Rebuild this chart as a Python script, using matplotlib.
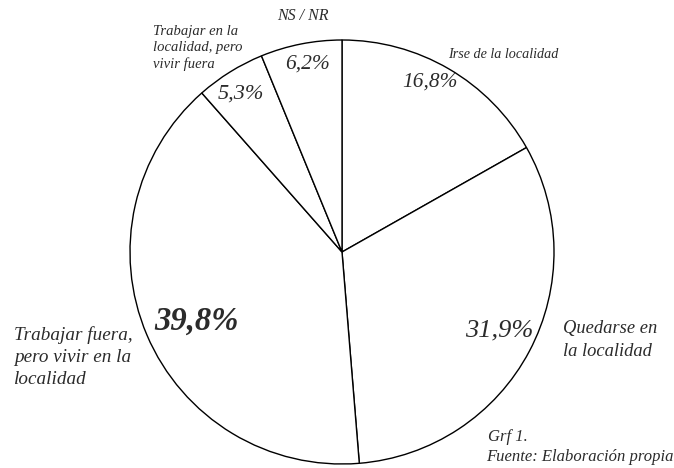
import matplotlib.pyplot as plt

# answers, clockwise from 12 o'clock
categories = ["Irse de la localidad",
              "Quedarse en\nla localidad",
              "Trabajar fuera,\npero vivir en la\nlocalidad",
              "Trabajar en la\nlocalidad, pero\nvivir fuera",
              "NS / NR"]
values = [16.8, 31.9, 39.8, 5.3, 6.2]

W, H = 674, 468
ink = "#2b2b2b"
serif = ["Liberation Serif", "DejaVu Serif"]


def fmt(v):
    return ("%.1f%%" % v).replace(".", ",")


fig = plt.figure(figsize=(W / 100, H / 100), dpi=100)
ax = fig.add_axes([0, 0, 1, 1])
ax.set_xlim(0, W)
ax.set_ylim(0, H)
ax.set_aspect("equal")
ax.axis("off")

ax.pie(values, startangle=90, counterclock=False, center=(342, H - 252),
       radius=212, colors=["white"] * len(values),
       wedgeprops=dict(edgecolor="black", linewidth=1.0))
ax.set_xlim(0, W)
ax.set_ylim(0, H)


def put(x, y, s, size, ha="left", weight="normal", ls=1.25):
    ax.text(x, H - y, s, fontsize=size, ha=ha, va="center", style="italic",
            weight=weight, color=ink, family=serif, linespacing=ls)


# category names
put(448, 54, categories[0], 10.2)
put(563, 340, categories[1], 13.3, ls=1.4)
put(14, 357, categories[2], 13.8, ls=1.38)
put(153, 48, categories[3], 10.5, ls=1.3)
put(303, 16, categories[4], 11.5, ha="center")

# percentages
put(430, 82, fmt(values[0]), 15.4, ha="center")
put(499, 330, fmt(values[1]), 19, ha="center")
put(196, 321, fmt(values[2]), 23.5, ha="center", weight="bold")
put(241, 94, fmt(values[3]), 16, ha="center")
put(307, 64, fmt(values[4]), 15.5, ha="center")

put(488, 437, "Grf 1.", 12)
put(486, 457, "Fuente: Elaboración propia", 12)

fig.savefig("out.png", dpi=100)
